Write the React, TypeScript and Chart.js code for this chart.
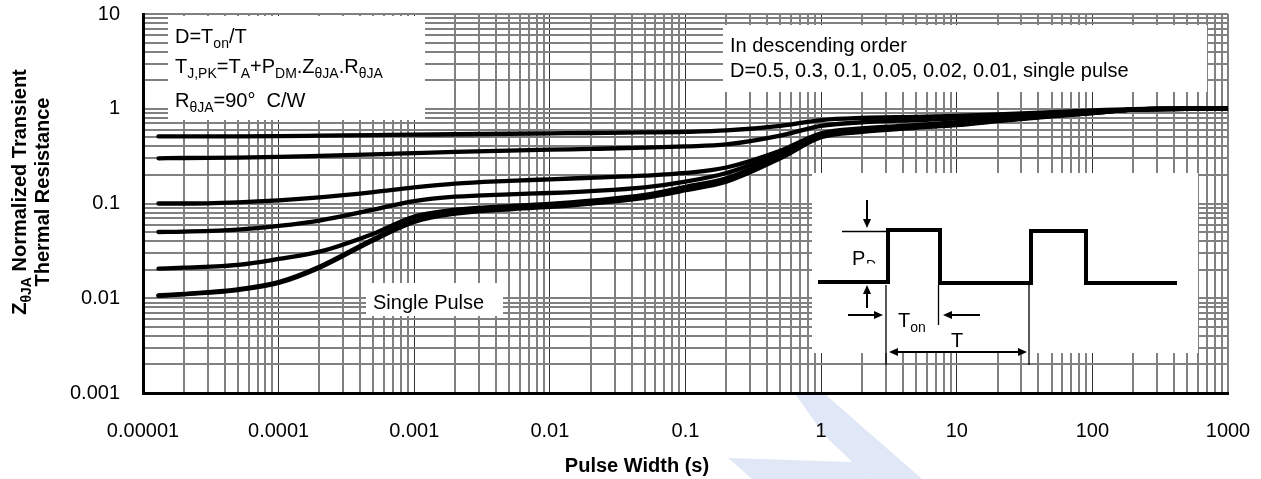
import React, { useEffect, useRef } from 'react';
import { Chart, registerables } from 'chart.js';

Chart.register(...registerables);

const FONT = "'Liberation Sans', Arial, Helvetica, sans-serif";

// Pulse width (s)
const pulseWidth = [1.3e-5, 2e-5, 5e-5, 1e-4, 2e-4, 5e-4, 1e-3, 2e-3, 5e-3, 1e-2, 2e-2, 5e-2, 0.1, 0.2, 0.5, 1, 2, 5, 10, 20, 50, 100, 200, 500, 1000];
// Normalized transient thermal resistance, per duty cycle
const zD050 = [0.51, 0.51, 0.512, 0.515, 0.52, 0.527, 0.532, 0.538, 0.545, 0.55, 0.555, 0.562, 0.57, 0.59, 0.66, 0.76, 0.8, 0.82, 0.84, 0.87, 0.92, 0.96, 0.99, 1.0, 1.0];
const zD030 = [0.30, 0.302, 0.305, 0.31, 0.318, 0.33, 0.34, 0.35, 0.362, 0.37, 0.377, 0.388, 0.40, 0.42, 0.52, 0.66, 0.72, 0.76, 0.79, 0.84, 0.9, 0.94, 0.98, 1.0, 1.0];
const zD010 = [0.10, 0.10, 0.103, 0.108, 0.116, 0.132, 0.148, 0.162, 0.173, 0.18, 0.187, 0.197, 0.21, 0.24, 0.36, 0.55, 0.62, 0.67, 0.72, 0.78, 0.86, 0.92, 0.98, 1.0, 1.0];
const zD005 = [0.05, 0.0505, 0.053, 0.058, 0.066, 0.086, 0.106, 0.118, 0.125, 0.129, 0.135, 0.148, 0.17, 0.21, 0.34, 0.53, 0.6, 0.66, 0.7, 0.77, 0.85, 0.91, 0.98, 1.0, 1.0];
const zD002 = [0.0205, 0.021, 0.0225, 0.026, 0.031, 0.048, 0.073, 0.086, 0.094, 0.099, 0.107, 0.123, 0.15, 0.185, 0.32, 0.52, 0.59, 0.65, 0.69, 0.76, 0.84, 0.91, 0.98, 1.0, 1.0];
const zD001 = [0.0107, 0.0111, 0.0124, 0.0148, 0.0215, 0.042, 0.066, 0.08, 0.089, 0.094, 0.102, 0.118, 0.142, 0.175, 0.31, 0.51, 0.58, 0.64, 0.68, 0.75, 0.84, 0.9, 0.98, 1.0, 1.0];
const zSingle = [0.0106, 0.011, 0.0122, 0.0145, 0.021, 0.041, 0.064, 0.078, 0.087, 0.092, 0.1, 0.115, 0.138, 0.17, 0.3, 0.5, 0.57, 0.63, 0.67, 0.74, 0.83, 0.9, 0.98, 1.0, 1.0];

const seriesLabels = ['D=0.5', 'D=0.3', 'D=0.1', 'D=0.05', 'D=0.02', 'D=0.01', 'Single pulse'];
const seriesValues = [zD050, zD030, zD010, zD005, zD002, zD001, zSingle];

const xTickLabels = ['0.00001', '0.0001', '0.001', '0.01', '0.1', '1', '10', '100', '1000'];
const yTickLabels = ['0.001', '0.01', '0.1', '1', '10'];
const X_MIN_EXP = -5;
const X_MAX_EXP = 3;
const Y_MIN_EXP = -3;
const Y_MAX_EXP = 1;

const xTitle = 'Pulse Width (s)';
const noteLegend1 = 'In descending order';
const noteLegend2 = 'D=0.5, 0.3, 0.1, 0.05, 0.02, 0.01, single pulse';
const noteSingle = 'Single Pulse';

type Part = [string, boolean?];

function buildLogTicks(minExp: number, maxExp: number) {
  const out: { value: number }[] = [];
  for (let e = minExp; e < maxExp; e++) {
    for (let m = 1; m <= 9; m++) {
      out.push({ value: Number((m * Math.pow(10, e)).toPrecision(6)) });
    }
  }
  out.push({ value: Math.pow(10, maxExp) });
  return out;
}

function decadeIndex(v: number, minExp: number): number {
  const l = Math.log10(v);
  const r = Math.round(l);
  if (Math.abs(l - r) < 1e-6) return r - minExp;
  return -1;
}

function drawRich(ctx: CanvasRenderingContext2D, x: number, y: number, parts: Part[], size = 20, bold = false) {
  let cx = x;
  for (const [t, sub] of parts) {
    ctx.font = `${bold ? 'bold ' : ''}${sub ? Math.round(size * 0.68) : size}px ${FONT}`;
    ctx.fillText(t, cx, sub ? y + 5 : y);
    cx += ctx.measureText(t).width;
  }
  return cx - x;
}

function measureRich(ctx: CanvasRenderingContext2D, parts: Part[], size = 20, bold = false) {
  let w = 0;
  for (const [t, sub] of parts) {
    ctx.font = `${bold ? 'bold ' : ''}${sub ? Math.round(size * 0.68) : size}px ${FONT}`;
    w += ctx.measureText(t).width;
  }
  return w;
}

function arrow(ctx: CanvasRenderingContext2D, x1: number, y1: number, x2: number, y2: number, head = 9, hw = 4) {
  const a = Math.atan2(y2 - y1, x2 - x1);
  const c = Math.cos(a);
  const s = Math.sin(a);
  const bx = x2 - c * head;
  const by = y2 - s * head;
  ctx.beginPath();
  ctx.moveTo(x1, y1);
  ctx.lineTo(bx, by);
  ctx.stroke();
  ctx.beginPath();
  ctx.moveTo(x2, y2);
  ctx.lineTo(bx - s * hw, by + c * hw);
  ctx.lineTo(bx + s * hw, by - c * hw);
  ctx.closePath();
  ctx.fill();
}

const decorPlugin = {
  id: 'decor',
  beforeDraw(chart: any) {
    const ctx: CanvasRenderingContext2D = chart.ctx;
    ctx.save();
    ctx.fillStyle = 'rgb(224,231,246)';
    ctx.beginPath();
    ctx.moveTo(796, 395);
    ctx.lineTo(826, 395);
    ctx.lineTo(922, 479);
    ctx.lineTo(870, 479);
    ctx.lineTo(824, 435);
    ctx.closePath();
    ctx.fill();
    ctx.beginPath();
    ctx.moveTo(728, 458);
    ctx.lineTo(852, 462);
    ctx.lineTo(870, 479);
    ctx.lineTo(752, 479);
    ctx.closePath();
    ctx.fill();
    ctx.restore();
  },
  beforeDatasetsDraw(chart: any) {
    const ctx: CanvasRenderingContext2D = chart.ctx;
    ctx.save();
    ctx.fillStyle = '#fff';
    ctx.fillRect(168, 16, 257, 104);
    ctx.fillRect(723, 25, 484, 67);
    ctx.fillRect(366, 283, 137, 33);
    ctx.fillRect(812, 173, 386, 180);

    ctx.fillStyle = '#000';
    ctx.textBaseline = 'alphabetic';
    ctx.textAlign = 'left';
    drawRich(ctx, 175, 43, [['D=T'], ['on', true], ['/T']]);
    drawRich(ctx, 175, 73, [['T'], ['J,PK', true], ['=T'], ['A', true], ['+P'], ['DM', true], ['.'], ['Z'], ['\u03b8JA', true], ['.'], ['R'], ['\u03b8JA', true]]);
    drawRich(ctx, 175, 107, [['R'], ['\u03b8JA', true], ['=90\u00b0  C/W']]);

    ctx.font = `20px ${FONT}`;
    ctx.fillText(noteLegend1, 730, 52);
    ctx.fillText(noteLegend2, 730, 77);
    ctx.fillText(noteSingle, 373, 309);

    // inset pulse diagram
    ctx.strokeStyle = '#000';
    ctx.lineJoin = 'miter';
    ctx.lineCap = 'butt';
    ctx.lineWidth = 4;
    ctx.beginPath();
    ctx.moveTo(818, 282);
    ctx.lineTo(888, 282);
    ctx.lineTo(888, 230);
    ctx.lineTo(940, 230);
    ctx.lineTo(940, 283);
    ctx.lineTo(1031, 283);
    ctx.lineTo(1031, 231);
    ctx.lineTo(1086, 231);
    ctx.lineTo(1086, 283);
    ctx.lineTo(1177, 283);
    ctx.stroke();

    ctx.lineWidth = 1.3;
    ctx.beginPath();
    ctx.moveTo(842, 231.5);
    ctx.lineTo(888, 231.5);
    ctx.moveTo(886, 285);
    ctx.lineTo(886, 365);
    ctx.moveTo(938.5, 285);
    ctx.lineTo(938.5, 325);
    ctx.moveTo(1029, 285);
    ctx.lineTo(1029, 365);
    ctx.stroke();

    ctx.lineWidth = 2;
    arrow(ctx, 867, 200, 867, 228);
    arrow(ctx, 867, 308, 867, 285);
    arrow(ctx, 848, 315, 883, 315);
    arrow(ctx, 980, 315, 943, 315);
    arrow(ctx, 958, 352, 889, 352);
    arrow(ctx, 958, 352, 1027, 352);

    ctx.font = `20px ${FONT}`;
    ctx.fillText('P', 852, 265);
    ctx.save();
    ctx.beginPath();
    ctx.rect(860, 240, 30, 23.5);
    ctx.clip();
    ctx.font = `14px ${FONT}`;
    ctx.fillText('D', 866, 270);
    ctx.restore();
    drawRich(ctx, 898, 327, [['T'], ['on', true]]);
    ctx.font = `20px ${FONT}`;
    ctx.fillText('T', 951, 347);

    // axis titles
    ctx.font = `bold 20px ${FONT}`;
    ctx.textAlign = 'center';
    ctx.fillText(xTitle, 637, 472);
    ctx.textAlign = 'left';

    const line1: Part[] = [['Z'], ['\u03b8JA', true], [' Normalized Transient']];
    const line2: Part[] = [['Thermal Resistance']];
    ctx.save();
    ctx.translate(0, 192);
    ctx.rotate(-Math.PI / 2);
    const w1 = measureRich(ctx, line1, 20, true);
    drawRich(ctx, -w1 / 2, 26, line1, 20, true);
    const w2 = measureRich(ctx, line2, 20, true);
    drawRich(ctx, -w2 / 2, 49, line2, 20, true);
    ctx.restore();

    ctx.restore();
  },
};

export default function App() {
  const ref = useRef<HTMLCanvasElement | null>(null);

  useEffect(() => {
    if (!ref.current) return;
    const chart = new Chart(ref.current, {
      type: 'line',
      data: {
        datasets: seriesValues.map((vals, i) => ({
          label: seriesLabels[i],
          data: pulseWidth.map((x, j) => ({ x, y: vals[j] })),
          borderColor: '#000',
          backgroundColor: '#000',
          borderWidth: 4.3,
          pointRadius: 0,
          fill: false,
          cubicInterpolationMode: 'monotone' as const,
          borderCapStyle: 'round' as const,
          borderJoinStyle: 'round' as const,
        })),
      },
      options: {
        responsive: true,
        maintainAspectRatio: false,
        animation: false,
        events: [],
        layout: { padding: { left: 0, right: 33, top: 14, bottom: 0 } },
        plugins: { legend: { display: false }, tooltip: { enabled: false } },
        scales: {
          x: {
            type: 'logarithmic',
            min: Math.pow(10, X_MIN_EXP),
            max: Math.pow(10, X_MAX_EXP),
            afterBuildTicks: (s: any) => {
              s.ticks = buildLogTicks(X_MIN_EXP, X_MAX_EXP);
            },
            afterFit: (s: any) => {
              s.height = 86;
              s.paddingLeft = 0;
              s.paddingRight = 0;
            },
            grid: {
              drawTicks: false,
              color: (c: any) => {
                const d = decadeIndex(c.tick.value, X_MIN_EXP);
                return d >= 0 && d < xTickLabels.length - 1 ? '#303030' : '#808080';
              },
              lineWidth: (c: any) => {
                const d = decadeIndex(c.tick.value, X_MIN_EXP);
                return d >= 0 && d < xTickLabels.length - 1 ? 1 : 2;
              },
            },
            border: { display: true, color: '#000', width: 3 },
            ticks: {
              autoSkip: false,
              maxRotation: 0,
              minRotation: 0,
              padding: 26,
              color: '#000',
              font: { family: FONT, size: 20 },
              callback: (v: any) => {
                const d = decadeIndex(Number(v), X_MIN_EXP);
                return d >= 0 ? xTickLabels[d] : '';
              },
            },
          },
          y: {
            type: 'logarithmic',
            min: Math.pow(10, Y_MIN_EXP),
            max: Math.pow(10, Y_MAX_EXP),
            afterBuildTicks: (s: any) => {
              s.ticks = buildLogTicks(Y_MIN_EXP, Y_MAX_EXP);
            },
            afterFit: (s: any) => {
              s.width = 143;
              s.paddingTop = 0;
              s.paddingBottom = 0;
            },
            grid: {
              drawTicks: false,
              color: '#808080',
              lineWidth: 2,
            },
            border: { display: true, color: '#000', width: 3 },
            ticks: {
              autoSkip: false,
              padding: 23,
              color: '#000',
              font: { family: FONT, size: 20 },
              callback: (v: any) => {
                const d = decadeIndex(Number(v), Y_MIN_EXP);
                return d >= 0 ? yTickLabels[d] : '';
              },
            },
          },
        },
      } as any,
      plugins: [decorPlugin],
    });
    return () => chart.destroy();
  }, []);

  return (
    <div style={{ position: 'absolute', left: 0, top: 0, width: 1261, height: 479, background: '#fff' }}>
      <canvas ref={ref} />
    </div>
  );
}
